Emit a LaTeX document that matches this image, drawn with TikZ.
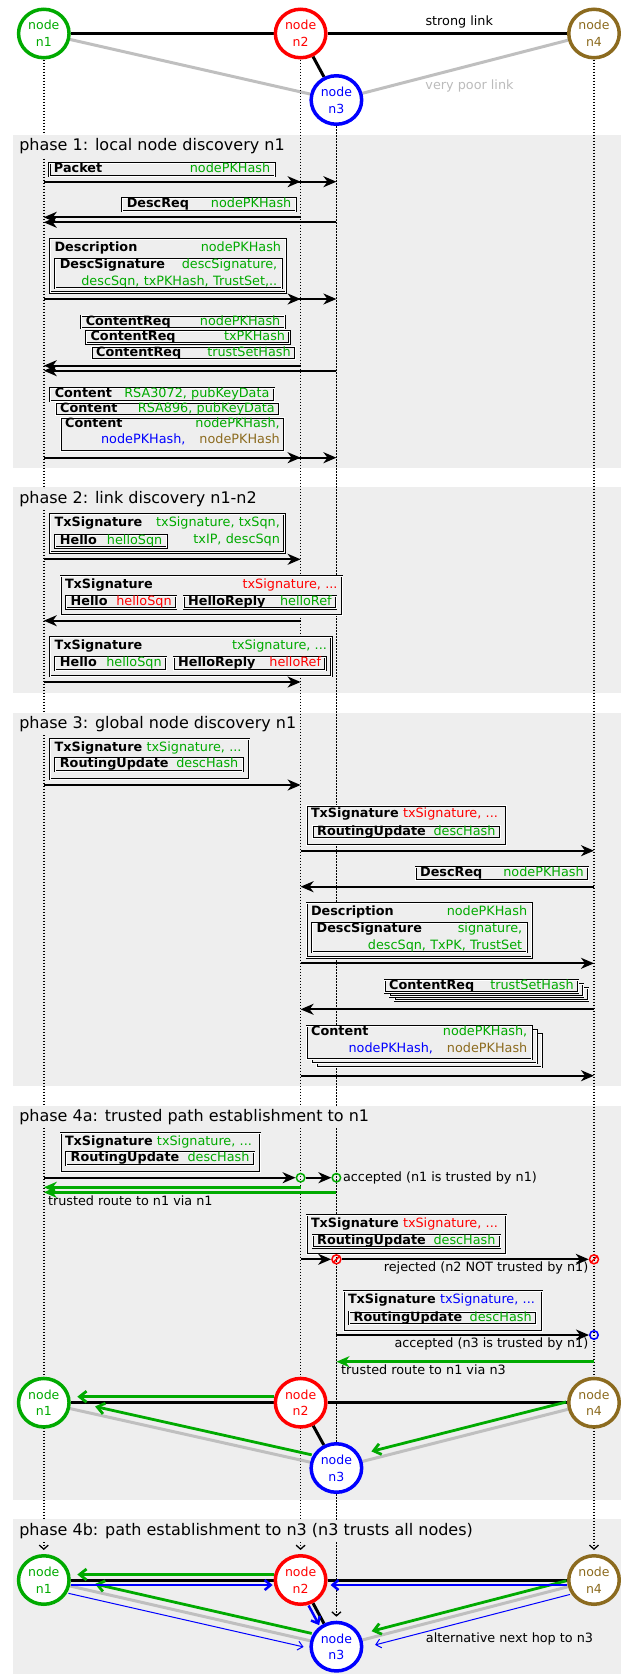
\documentclass[tikz,border=0pt]{standalone}
\usepackage{fontspec}
\setmainfont{DejaVu Sans}
\usetikzlibrary{arrows.meta, positioning, shapes.geometric, shapes.symbols}
\definecolor{phasebg}{HTML}{EEEEEE}
\definecolor{linkgray}{HTML}{BFBFBF}
\definecolor{poorgray}{HTML}{BBBBBB}
\definecolor{cgreen}{HTML}{00AA00}
\definecolor{cred}{HTML}{FF0000}
\definecolor{cblue}{HTML}{0000FF}
\definecolor{cbrown}{HTML}{8C6B1F}
\newcommand{\msgfont}{\fontsize{12.8}{16.5}\selectfont}
\newcommand{\peerfont}{\fontsize{12.5}{16.7}\selectfont}
\newcommand{\phasefont}{\fontsize{16}{19}\selectfont}
\newcommand{\fieldrow}[2]{\hbox to \linewidth{#1\hfill#2}}
\pgfdeclarelayer{bg}
\pgfdeclarelayer{wires}
\pgfsetlayers{bg,wires,main}
\setlength{\parindent}{0pt}
\begin{document}
\begin{tikzpicture}[
  x=1pt, y=-1pt,
  peer/.style={ellipse, draw=#1, text=#1, line width=3.5pt, fill=white,
    minimum width=50.5pt, minimum height=48.5pt, inner sep=0pt,
    align=center, font=\peerfont},
  strong/.style={line width=3pt},
  poor/.style={line width=3pt, linkgray},
  life/.style={line width=1.5pt, dash pattern=on 1.5pt off 1.5pt, shorten >=4pt,
    -{Straight Barb[length=4pt, width=9pt, line width=1.3pt]}},
  msgframe/.style={draw, double=white, double distance=0.7pt, line width=0.75pt,
    fill=phasebg, anchor=north west, inner sep=0pt},
  msgbox/.style={msgframe, inner xsep=4.5pt, inner ysep=0.6pt, text height=9pt,
    text depth=2.3pt, text width=#1, font=\msgfont},
  hdr/.style={anchor=north west, inner xsep=4.5pt, inner ysep=3.1pt,
    text height=9.3pt, text depth=2.3pt, text width=#1, font=\msgfont},
  msgarr/.style={line width=1.8pt, -{Stealth[length=13pt, width=11pt, inset=4pt]}},
  seqroute/.style={msgarr, cgreen, line width=2.6pt},
  okmark/.style={circle, draw=#1, line width=1.5pt, minimum size=8.5pt, inner sep=0pt},
  nomark/.style={forbidden sign, draw=cred, line width=1.5pt, minimum size=9pt, inner sep=0pt},
  note/.style={font=\msgfont, inner sep=0.5pt},
  phase/.style={font=\phasefont, fill=phasebg, inner xsep=1pt, inner ysep=3pt, anchor=base west},
  route/.style={cgreen, line width=2.8pt, -{Straight Barb[length=7pt, width=11pt]}},
  hop/.style={cblue, line width=2.5pt, -{Straight Barb[length=6pt, width=10pt]}},
  althop/.style={cblue, line width=1pt, -{Straight Barb[length=5pt, width=9pt]}}
]
\useasboundingbox (0,0) rectangle (621,1674);

\begin{pgfonlayer}{bg}
  \fill[phasebg] (13.1,135) rectangle (621,468.3);
  \fill[phasebg] (13.1,487.3) rectangle (621,692.7);
  \fill[phasebg] (13.1,712.7) rectangle (621,1085.7);
  \fill[phasebg] (13.1,1106) rectangle (621,1500);
  \fill[phasebg] (13.1,1519.3) rectangle (621,1674);
\end{pgfonlayer}

\node[peer=cgreen] (n1) at (43.8,33.5) {node\\n1};
\node[peer=cred]   (n2) at (300.6,33.5) {node\\n2};
\node[peer=cblue]  (n3) at (336.4,100) {node\\n3};
\node[peer=cbrown] (n4) at (594,33.5) {node\\n4};
\begin{pgfonlayer}{wires}
  \draw[poor] (n1) -- (n3);
  \draw[poor] (n3) -- (n4);
  \draw[strong] (n1) -- (n2);
  \draw[strong] (n2) -- node[pos=0.55, above=1pt, font=\msgfont] (strongtxt) {strong link} (n4);
  \draw[strong] (n2) -- (n3);
\end{pgfonlayer}
\node[font=\msgfont, text=poorgray] (poortxt) at (469.5,86) {very poor link};

\node[peer=cgreen] (b1) at (43.8,1580) {node\\n1};
\node[peer=cred]   (b2) at (300.6,1580) {node\\n2};
\node[peer=cblue]  (b3) at (336.4,1646.7) {node\\n3};
\node[peer=cbrown] (b4) at (594,1580) {node\\n4};
\begin{pgfonlayer}{wires}
  \draw[life] (n1) -- (b1);
  \draw[life] (n2) -- (b2);
  \draw[life] (n3) -- (b3);
  \draw[life] (n4) -- (b4);
\end{pgfonlayer}

\node[phase] (ph1) at (18.1,150.5) {phase 1: local node discovery n1};
\node[phase] (ph2) at (18.1,503.8) {phase 2: link discovery n1-n2};
\node[phase] (ph3) at (18.1,728.5) {phase 3: global node discovery n1};
\node[phase] (ph4a) at (18.1,1121.2) {phase 4a: trusted path establishment to n1};
\node[phase] (ph4b) at (18.1,1535.2) {phase 4b: path establishment to n3 (n3 trusts all nodes)};

\node[msgbox=216.2pt] (pkt) at (49.1,163) {\fieldrow{\textbf{Packet}}{\textcolor{cgreen}{nodePKHash}}};
\coordinate (r11) at (0,181.7);
\draw[msgarr] (r11 -| n1) -- (r11 -| n3);
\draw[msgarr] (r11 -| n1) -- (r11 -| n2);

\node[msgbox=164.5pt] (dreq1) at (121.9,198) {\fieldrow{\textbf{DescReq}}{\textcolor{cgreen}{nodePKHash}}};
\coordinate (r12) at (0,217.3);
\coordinate (r12b) at (0,222.3);
\draw[msgarr] (r12 -| n2) -- (r12 -| n1);
\draw[msgarr] (r12b -| n3) -- (r12b -| n1);

\node[msgframe, minimum width=235.5pt, minimum height=53.5pt] (desc1) at (49.9,238.6) {};
\node[hdr=226.5pt] (desc1h) at (desc1.north west) {\fieldrow{\textbf{Description}}{\textcolor{cgreen}{nodePKHash}}};
\node[msgbox=217.4pt, text depth=18.5pt] (dsig1) at (55,259) {\fieldrow{\textbf{DescSignature}}{\textcolor{cgreen}{descSignature,}}\\\fieldrow{}{\textcolor{cgreen}{descSqn, txPKHash, TrustSet,..}}};
\coordinate (r13) at (0,299);
\draw[msgarr] (r13 -| n1) -- (r13 -| n3);
\draw[msgarr] (r13 -| n1) -- (r13 -| n2);

\node[msgbox=194.5pt] (creq1) at (80.9,315.3) {\fieldrow{\textbf{ContentReq}}{\textcolor{cgreen}{nodePKHash}}};
\node[msgbox=194.5pt] (creq2) at (85.7,330.6) {\fieldrow{\textbf{ContentReq}}{\textcolor{cgreen}{txPKHash}}};
\node[msgbox=194.5pt] (creq3) at (91.3,346.3) {\fieldrow{\textbf{ContentReq}}{\textcolor{cgreen}{trustSetHash}}};
\coordinate (r14) at (0,365.7);
\coordinate (r14b) at (0,370.7);
\draw[msgarr] (r14 -| n2) -- (r14 -| n1);
\draw[msgarr] (r14b -| n3) -- (r14b -| n1);

\node[msgbox=214.6pt] (cont1) at (49.9,388) {\fieldrow{\textbf{Content}}{\textcolor{cgreen}{RSA3072, pubKeyData}}};
\node[msgbox=214.6pt] (cont2) at (55.3,402.3) {\fieldrow{\textbf{Content}}{\textcolor{cgreen}{RSA896, pubKeyData}}};
\node[msgbox=214.6pt, text depth=23pt] (cont3) at (60.3,417.3) {\fieldrow{\textbf{Content}}{\textcolor{cgreen}{nodePKHash,}}\\\fieldrow{}{\textcolor{cblue}{nodePKHash,}\hspace{14pt}\textcolor{cbrown}{nodePKHash}}};
\coordinate (r15) at (0,457.7);
\draw[msgarr] (r15 -| n1) -- (r15 -| n3);
\draw[msgarr] (r15 -| n1) -- (r15 -| n2);

\node[msgframe, minimum width=234.3pt, minimum height=38.1pt] (tx1) at (49.9,514) {};
\node[hdr=225.3pt, text depth=18pt] (tx1h) at (tx1.north west) {\fieldrow{\textbf{TxSignature}}{\textcolor{cgreen}{txSignature, txSqn,}}\\\fieldrow{}{\textcolor{cgreen}{txIP, descSqn}}};
\node[msgbox=102.4pt] (hello1) at (55,534.6) {\fieldrow{\textbf{Hello}}{\textcolor{cgreen}{helloSqn}}};
\coordinate (r21) at (0,559.3);
\draw[msgarr] (r21 -| n1) -- (r21 -| n2);

\node[msgframe, minimum width=281.5pt, minimum height=39.2pt] (tx2) at (60.3,575.6) {};
\node[hdr=272.5pt] (tx2h) at (tx2.north west) {\fieldrow{\textbf{TxSignature}}{\textcolor{cred}{txSignature, ...}}};
\node[msgbox=101pt] (hello2) at (65.8,595.6) {\fieldrow{\textbf{Hello}}{\textcolor{cred}{helloSqn}}};
\node[msgbox=143.5pt] (hrep2) at (183.3,595.6) {\fieldrow{\textbf{HelloReply}}{\textcolor{cgreen}{helloRef}}};
\coordinate (r22) at (0,620.7);
\draw[msgarr] (r22 -| n2) -- (r22 -| n1);

\node[msgframe, minimum width=281.3pt, minimum height=38.8pt] (tx3) at (49.9,637) {};
\node[hdr=272.3pt] (tx3h) at (tx3.north west) {\fieldrow{\textbf{TxSignature}}{\textcolor{cgreen}{txSignature, ...}}};
\node[msgbox=101.8pt] (hello3) at (55,657) {\fieldrow{\textbf{Hello}}{\textcolor{cgreen}{helloSqn}}};
\node[msgbox=142.9pt] (hrep3) at (173.3,657) {\fieldrow{\textbf{HelloReply}}{\textcolor{cred}{helloRef}}};
\coordinate (r23) at (0,682);
\draw[msgarr] (r23 -| n1) -- (r23 -| n2);

\node[msgframe, minimum width=198.9pt, minimum height=40.2pt] (tx4) at (49.9,738.6) {};
\node[hdr=189.9pt] (tx4h) at (tx4.north west) {\fieldrow{\textbf{TxSignature} \textcolor{cgreen}{txSignature, ...}}{}};
\node[msgbox=178.4pt] (ru4) at (55,758) {\fieldrow{\textbf{RoutingUpdate}}{\textcolor{cgreen}{descHash}}};
\coordinate (r31) at (0,785);
\draw[msgarr] (r31 -| n1) -- (r31 -| n2);

\node[msgframe, minimum width=199.3pt, minimum height=39.5pt] (tx5) at (306.3,805.3) {};
\node[hdr=190.3pt] (tx5h) at (tx5.north west) {\fieldrow{\textbf{TxSignature} \textcolor{cred}{txSignature, ...}}{}};
\node[msgbox=178.3pt] (ru5) at (312.3,825.3) {\fieldrow{\textbf{RoutingUpdate}}{\textcolor{cgreen}{descHash}}};
\coordinate (r32) at (0,850.7);
\draw[msgarr] (r32 -| n2) -- (r32 -| n4);

\node[msgbox=163.5pt] (dreq2) at (415.3,867) {\fieldrow{\textbf{DescReq}}{\textcolor{cgreen}{nodePKHash}}};
\coordinate (r33) at (0,886.7);
\draw[msgarr] (r33 -| n4) -- (r33 -| n2);

\node[msgframe, minimum width=225.1pt, minimum height=54.1pt] (desc2) at (306.3,903) {};
\node[hdr=216.1pt] (desc2h) at (desc2.north west) {\fieldrow{\textbf{Description}}{\textcolor{cgreen}{nodePKHash}}};
\node[msgbox=205.5pt, text depth=18.5pt] (dsig2) at (311.8,923) {\fieldrow{\textbf{DescSignature}}{\textcolor{cgreen}{signature,}}\\\fieldrow{}{\textcolor{cgreen}{descSqn, TxPK, TrustSet}}};
\coordinate (r34) at (0,963.3);
\draw[msgarr] (r34 -| n2) -- (r34 -| n4);

\node[msgbox=184.5pt] (creq6) at (394.3,987.6) {};
\node[msgbox=184.5pt] (creq5) at (389.3,983.6) {};
\node[msgbox=184.5pt] (creq4) at (384.3,979.6) {\fieldrow{\textbf{ContentReq}}{\textcolor{cgreen}{trustSetHash}}};
\coordinate (r35) at (0,1009.3);
\draw[msgarr] (r35 -| n4) -- (r35 -| n2);

\node[msgbox=216.1pt, text depth=22.7pt] (cont6) at (316.3,1033.6) {};
\node[msgbox=216.1pt, text depth=22.7pt] (cont5) at (311.3,1029.6) {};
\node[msgbox=216.1pt, text depth=22.7pt] (cont4) at (306.3,1025.6) {\fieldrow{\textbf{Content}}{\textcolor{cgreen}{nodePKHash,}}\\\fieldrow{}{\textcolor{cblue}{nodePKHash,}\hspace{14pt}\textcolor{cbrown}{nodePKHash}}};
\coordinate (r36) at (0,1075.7);
\draw[msgarr] (r36 -| n2) -- (r36 -| n4);

\node[msgframe, minimum width=199.2pt, minimum height=38.5pt] (tx7) at (60.3,1133) {};
\node[hdr=190.2pt] (tx7h) at (tx7.north west) {\fieldrow{\textbf{TxSignature} \textcolor{cgreen}{txSignature, ...}}{}};
\node[msgbox=178.8pt] (ru7) at (65.8,1152) {\fieldrow{\textbf{RoutingUpdate}}{\textcolor{cgreen}{descHash}}};
\coordinate (r41) at (0,1177.7);
\node[okmark=cgreen] (ok2) at (r41 -| n2) {};
\node[okmark=cgreen] (ok3) at (r41 -| n3) {};
\draw[msgarr] (r41 -| n1) -- (ok2);
\draw[msgarr] (ok2) -- (ok3);
\node[note, right=1pt of ok3] (acc1) {accepted (n1 is trusted by n1)};
\coordinate (g41) at (0,1187.3);
\coordinate (g41b) at (0,1192.3);
\draw[seqroute] (g41 -| n2) -- (g41 -| n1);
\draw[seqroute] (g41b -| n3) -- (g41b -| n1);
\node[note, anchor=west] (via1) at (47.3,1200.7) {trusted route to n1 via n1};

\node[msgframe, minimum width=199.3pt, minimum height=39.2pt] (tx8) at (306.3,1214.6) {};
\node[hdr=190.3pt] (tx8h) at (tx8.north west) {\fieldrow{\textbf{TxSignature} \textcolor{cred}{txSignature, ...}}{}};
\node[msgbox=178.3pt] (ru8) at (312.3,1234.6) {\fieldrow{\textbf{RoutingUpdate}}{\textcolor{cgreen}{descHash}}};
\coordinate (r42) at (0,1259.3);
\node[nomark] (no3) at (r42 -| n3) {};
\node[nomark] (no4) at (r42 -| n4) {};
\draw[msgarr] (r42 -| n2) -- (no3);
\draw[msgarr] (no3) -- (no4);
\node[note, anchor=east] (rej) at (589,1267.7) {rejected (n2 NOT trusted by n1)};

\node[msgframe, minimum width=198.5pt, minimum height=39.9pt] (tx9) at (343.3,1290.6) {};
\node[hdr=189.5pt] (tx9h) at (tx9.north west) {\fieldrow{\textbf{TxSignature} \textcolor{cblue}{txSignature, ...}}{}};
\node[msgbox=178pt] (ru9) at (348.8,1311.3) {\fieldrow{\textbf{RoutingUpdate}}{\textcolor{cgreen}{descHash}}};
\coordinate (r43) at (0,1335);
\node[okmark=cblue] (ok4) at (r43 -| n4) {};
\draw[msgarr] (r43 -| n3) -- (ok4);
\node[note, anchor=east] (acc3) at (589,1344) {accepted (n3 is trusted by n1)};
\coordinate (g42) at (0,1361.7);
\draw[seqroute] (g42 -| n4) -- (g42 -| n3);
\node[note, anchor=west] (via3) at (340.5,1369.3) {trusted route to n1 via n3};

\node[peer=cgreen] (a1) at (43.8,1402.7) {node\\n1};
\node[peer=cred]   (a2) at (300.6,1402.7) {node\\n2};
\node[peer=cblue]  (a3) at (336.4,1468) {node\\n3};
\node[peer=cbrown] (a4) at (594,1402.7) {node\\n4};
\begin{pgfonlayer}{wires}
  \draw[poor] (a1) -- (a3);
  \draw[poor] (a3) -- (a4);
  \draw[strong] (a1) -- (a2);
  \draw[strong] (a2) -- (a4);
  \draw[strong] (a2) -- (a3);
  \draw[route, shorten >=6.5pt, transform canvas={yshift=6pt}] (a2) -- (a1);
  \draw[route, shorten >=24pt, transform canvas={shift={(1.6pt,7.3pt)}}] (a3) -- (a1);
  \draw[route, shorten >=11pt, transform canvas={shift={(-1.8pt,7.3pt)}}] (a4) -- (a3);
\end{pgfonlayer}

\begin{pgfonlayer}{wires}
  \draw[poor] (b1) -- (b3);
  \draw[poor] (b3) -- (b4);
  \draw[strong] (b1) -- (b2);
  \draw[strong] (b2) -- (b4);
  \draw[strong] (b2) -- (b3);
  \draw[route, shorten >=6.5pt, transform canvas={yshift=5.5pt}] (b2) -- (b1);
  \draw[route, shorten >=24pt, transform canvas={shift={(1.6pt,7.3pt)}}] (b3) -- (b1);
  \draw[route, shorten >=11pt, transform canvas={shift={(-1.5pt,6pt)}}] (b4) -- (b3);
  \draw[hop, shorten >=1pt, transform canvas={yshift=-5pt}] (b1) -- (b2);
  \draw[hop, shorten >=3pt, transform canvas={yshift=-5pt}] (b4) -- (b2);
  \draw[hop, shorten >=1pt, transform canvas={shift={(-4.4pt,-2.4pt)}}] (b2) -- (b3);
  \draw[althop, shorten >=5pt, transform canvas={shift={(-1.7pt,-7.3pt)}}] (b1) -- (b3);
  \draw[althop, shorten >=11pt, transform canvas={shift={(2pt,-7.7pt)}}] (b4) -- (b3);
\end{pgfonlayer}
\node[note] (alttxt) at (509.5,1638.5) {alternative next hop to n3};
\end{tikzpicture}
\end{document}
